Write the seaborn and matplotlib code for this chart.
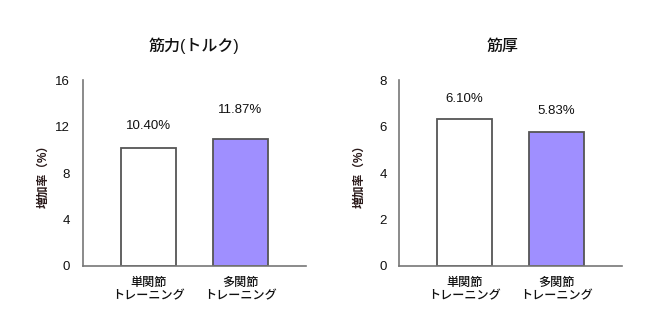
import matplotlib
matplotlib.use("Agg")
import matplotlib.pyplot as plt
import seaborn as sns

# ---- data ----
categories = ["単関節\nトレーニング", "多関節\nトレーニング"]
titles = ["筋力(トルク)", "筋厚"]
bar_values_strength = [10.15, 10.9]
bar_values_thickness = [6.32, 5.78]
value_labels_strength = ["10.40%", "11.87%"]
value_labels_thickness = ["6.10%", "5.83%"]
yticks_strength = [0, 4, 8, 12, 16]
yticks_thickness = [0, 2, 4, 6, 8]
ylabel_text = "増加率（%）"

# ---- style ----
sns.set_theme(style="white")
FAM = ["Liberation Sans", "Noto Sans CJK JP", "DejaVu Sans"]
plt.rcParams["font.family"] = FAM
bar_colors = ["#ffffff", "#9f8fff"]
edge = "#555555"
spine_col = "#777777"

fig = plt.figure(figsize=(6.64, 3.32), dpi=100)
ax_pos = [[0.1245, 0.1988, 0.3363, 0.5602], [0.601, 0.1988, 0.336, 0.5602]]
label_offsets = [[16, 21], [14.4, 14.9]]
title_x = [0.5, 0.465]

panels = [
    (bar_values_strength, value_labels_strength, yticks_strength),
    (bar_values_thickness, value_labels_thickness, yticks_thickness),
]

for i, (vals, labs, ticks) in enumerate(panels):
    ax = fig.add_axes(ax_pos[i])
    sns.barplot(x=categories, y=vals, hue=categories, palette=bar_colors,
                edgecolor=edge, linewidth=1.3, width=0.6, legend=False,
                ax=ax, saturation=1)
    ax.set_xlim(-0.71, 1.71)
    ax.set_ylim(ticks[0], ticks[-1])
    ax.set_yticks(ticks)
    ax.set_yticklabels([str(t) for t in ticks], fontsize=9.5, color="#111111")
    ax.tick_params(axis="y", length=0, pad=9)
    ax.tick_params(axis="x", length=0, pad=8)
    for t in ax.get_xticklabels():
        t.set_fontsize(8.7)
        t.set_color("#111111")
        t.set_linespacing(1.15)
        t.set_fontweight("medium")
    for s in ["top", "right"]:
        ax.spines[s].set_visible(False)
    for s in ["left", "bottom"]:
        ax.spines[s].set_color(spine_col)
        ax.spines[s].set_linewidth(1.2)
    ax.set_ylabel(ylabel_text, fontsize=8.5, color="#2a1a1a",
                  fontweight="bold")
    ax.yaxis.set_label_coords(-0.15, 0.5)
    ax.set_xlabel("")
    ax.set_title(titles[i], fontsize=11.5, color="#111111", pad=21,
                 fontweight="medium", x=title_x[i])
    for j, (v, lab) in enumerate(zip(vals, labs)):
        ax.annotate(lab, xy=(j, v), xytext=(0, label_offsets[i][j]),
                    textcoords="offset points", ha="center", va="center",
                    fontsize=9.5, color="#111111")

fig.savefig("out.png", dpi=100)
